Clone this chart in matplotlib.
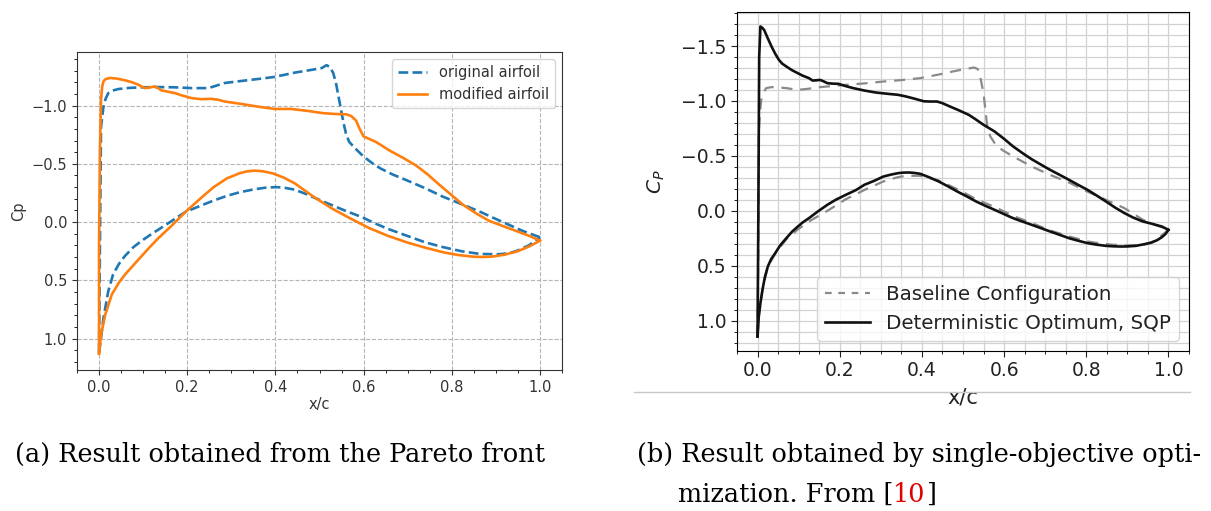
import matplotlib
matplotlib.use("Agg")
import matplotlib.pyplot as plt
from matplotlib.ticker import MultipleLocator
from matplotlib.lines import Line2D

# ---- (a) Pareto-front result: original vs modified airfoil ----
orig_upper_x = [0.0, 0.002, 0.0045, 0.01, 0.015, 0.021, 0.03, 0.044, 0.06, 0.074, 0.1, 0.134,
                0.17, 0.21, 0.248, 0.265, 0.285, 0.32, 0.36, 0.398, 0.444, 0.487, 0.505, 0.516,
                0.524, 0.531, 0.537, 0.542, 0.548, 0.554, 0.56, 0.567, 0.579, 0.6, 0.62, 0.638,
                0.665, 0.697, 0.74, 0.781, 0.825, 0.865, 0.895, 0.924, 0.96, 1.0]
orig_upper_cp = [1.12, 0.2, -0.818, -0.99, -1.06, -1.107, -1.128, -1.142, -1.149, -1.153, -1.157,
                 -1.159, -1.157, -1.15, -1.15, -1.17, -1.194, -1.21, -1.228, -1.246, -1.283, -1.31,
                 -1.322, -1.347, -1.33, -1.28, -1.2, -1.1, -0.98, -0.86, -0.76, -0.69, -0.64,
                 -0.562, -0.505, -0.461, -0.41, -0.36, -0.29, -0.216, -0.15, -0.087, -0.035,
                 0.014, 0.075, 0.13]
orig_lower_x = [0.0, 0.0045, 0.01, 0.021, 0.032, 0.045, 0.059, 0.078, 0.097, 0.12, 0.149, 0.175,
                0.196, 0.23, 0.26, 0.29, 0.318, 0.35, 0.377, 0.402, 0.42, 0.444, 0.47, 0.5,
                0.529, 0.56, 0.596, 0.625, 0.655, 0.7, 0.739, 0.78, 0.823, 0.865, 0.907, 0.93,
                0.949, 0.975, 1.0]
orig_lower_cp = [1.12, 0.997, 0.824, 0.592, 0.448, 0.36, 0.29, 0.215, 0.16, 0.1, 0.03, -0.035,
                 -0.087, -0.14, -0.185, -0.225, -0.255, -0.28, -0.295, -0.3, -0.295, -0.278,
                 -0.24, -0.19, -0.144, -0.095, -0.043, 0.01, 0.058, 0.12, 0.173, 0.215, 0.251,
                 0.274, 0.276, 0.268, 0.245, 0.2, 0.13]

mod_upper_x = [0.0, 0.0, 0.002, 0.0045, 0.007, 0.01, 0.015, 0.025, 0.04, 0.059, 0.075, 0.089,
               0.104, 0.115, 0.127, 0.142, 0.155, 0.172, 0.19, 0.21, 0.232, 0.255, 0.27, 0.285,
               0.323, 0.36, 0.398, 0.436, 0.474, 0.508, 0.535, 0.561, 0.572, 0.583, 0.591, 0.6,
               0.612, 0.629, 0.659, 0.69, 0.719, 0.745, 0.772, 0.8, 0.825, 0.855, 0.885, 0.92,
               0.953, 0.98, 1.0]
mod_upper_cp = [1.13, 0.2, -0.616, -1.05, -1.16, -1.208, -1.228, -1.237, -1.232, -1.217, -1.2,
                -1.179, -1.15, -1.155, -1.165, -1.13, -1.12, -1.107, -1.085, -1.064, -1.055,
                -1.058, -1.05, -1.035, -1.014, -0.991, -0.971, -0.971, -0.954, -0.935, -0.928,
                -0.925, -0.91, -0.871, -0.8, -0.735, -0.715, -0.686, -0.614, -0.55, -0.486,
                -0.41, -0.32, -0.23, -0.15, -0.075, -0.01, 0.04, 0.086, 0.125, 0.16]
mod_lower_x = [0.0, 0.0045, 0.014, 0.029, 0.045, 0.059, 0.078, 0.097, 0.115, 0.134, 0.165,
               0.196, 0.234, 0.26, 0.29, 0.318, 0.335, 0.352, 0.37, 0.394, 0.42, 0.444, 0.487,
               0.529, 0.571, 0.613, 0.655, 0.697, 0.74, 0.781, 0.815, 0.848, 0.87, 0.89, 0.92,
               0.949, 0.975, 1.0]
mod_lower_cp = [1.13, 0.968, 0.795, 0.621, 0.52, 0.45, 0.37, 0.29, 0.215, 0.14, 0.03, -0.087,
                -0.216, -0.3, -0.375, -0.418, -0.435, -0.441, -0.437, -0.418, -0.38, -0.332,
                -0.216, -0.115, -0.029, 0.052, 0.118, 0.173, 0.22, 0.26, 0.283, 0.297, 0.3,
                0.297, 0.28, 0.251, 0.21, 0.16]

# ---- (b) single-objective optimisation: baseline vs SQP optimum ----
base_upper_x = [0.0, 0.002, 0.003, 0.006, 0.009, 0.015, 0.021, 0.034, 0.05, 0.07, 0.098, 0.125,
                0.152, 0.215, 0.26, 0.306, 0.35, 0.396, 0.44, 0.486, 0.527, 0.536, 0.543, 0.55,
                0.555, 0.559, 0.566, 0.577, 0.595, 0.622, 0.667, 0.71, 0.758, 0.8, 0.848, 0.893,
                0.938, 0.965, 0.984, 1.0]
base_upper_cp = [1.14, 0.3, -0.707, -0.9, -1.01, -1.08, -1.117, -1.126, -1.124, -1.117, -1.101,
                 -1.112, -1.126, -1.147, -1.16, -1.177, -1.19, -1.208, -1.24, -1.277, -1.305,
                 -1.29, -1.2, -1.071, -0.9, -0.768, -0.68, -0.616, -0.555, -0.495, -0.404, -0.33,
                 -0.258, -0.18, -0.1, -0.024, 0.082, 0.125, 0.149, 0.173]
base_lower_x = [0.0, 0.003, 0.012, 0.025, 0.043, 0.07, 0.098, 0.125, 0.17, 0.215, 0.26, 0.306,
                0.34, 0.36, 0.396, 0.441, 0.49, 0.532, 0.58, 0.622, 0.67, 0.712, 0.76, 0.803,
                0.84, 0.866, 0.9, 0.938, 0.96, 0.975, 1.0]
base_lower_cp = [1.14, 0.962, 0.72, 0.51, 0.39, 0.258, 0.17, 0.097, 0.0, -0.106, -0.19, -0.267,
                 -0.305, -0.319, -0.319, -0.276, -0.19, -0.106, -0.03, 0.046, 0.115, 0.179,
                 0.235, 0.279, 0.3, 0.309, 0.315, 0.309, 0.29, 0.25, 0.173]

opt_upper_x = [0.0, 0.002, 0.004, 0.007, 0.011, 0.016, 0.025, 0.034, 0.043, 0.052, 0.06, 0.07,
               0.084, 0.098, 0.11, 0.125, 0.134, 0.143, 0.152, 0.16, 0.17, 0.183, 0.197, 0.215,
               0.233, 0.26, 0.288, 0.315, 0.342, 0.36, 0.378, 0.405, 0.42, 0.437, 0.45, 0.468,
               0.49, 0.514, 0.53, 0.55, 0.577, 0.6, 0.622, 0.645, 0.667, 0.69, 0.712, 0.735,
               0.758, 0.78, 0.803, 0.825, 0.848, 0.87, 0.893, 0.915, 0.938, 0.96, 0.984, 1.0]
opt_upper_cp = [1.144, 0.0, -1.4, -1.678, -1.668, -1.647, -1.57, -1.496, -1.43, -1.374, -1.34,
                -1.314, -1.28, -1.253, -1.23, -1.208, -1.186, -1.188, -1.192, -1.18, -1.162,
                -1.158, -1.156, -1.135, -1.117, -1.095, -1.077, -1.066, -1.056, -1.042, -1.025,
                -0.997, -0.995, -0.995, -0.98, -0.95, -0.915, -0.874, -0.835, -0.783, -0.722,
                -0.655, -0.586, -0.525, -0.47, -0.42, -0.373, -0.328, -0.282, -0.237, -0.191,
                -0.14, -0.085, -0.03, 0.021, 0.063, 0.097, 0.118, 0.143, 0.173]
opt_lower_x = [0.0, 0.003, 0.007, 0.012, 0.018, 0.025, 0.033, 0.043, 0.055, 0.07, 0.084, 0.098,
               0.11, 0.125, 0.147, 0.17, 0.19, 0.215, 0.24, 0.26, 0.285, 0.306, 0.325, 0.342,
               0.355, 0.369, 0.382, 0.396, 0.418, 0.441, 0.465, 0.486, 0.51, 0.532, 0.555, 0.577,
               0.6, 0.622, 0.645, 0.667, 0.69, 0.712, 0.735, 0.758, 0.78, 0.803, 0.825, 0.848,
               0.866, 0.884, 0.9, 0.92, 0.94, 0.957, 0.972, 0.984, 0.993, 1.0]
opt_lower_cp = [1.144, 0.962, 0.84, 0.719, 0.6, 0.507, 0.44, 0.385, 0.315, 0.249, 0.19, 0.143,
                0.105, 0.067, 0.005, -0.055, -0.1, -0.146, -0.19, -0.237, -0.275, -0.312, -0.33,
                -0.343, -0.348, -0.349, -0.345, -0.337, -0.305, -0.267, -0.22, -0.176, -0.13,
                -0.085, -0.045, -0.009, 0.03, 0.067, 0.098, 0.127, 0.158, 0.188, 0.218, 0.249,
                0.272, 0.294, 0.308, 0.319, 0.323, 0.325, 0.324, 0.319, 0.305, 0.29, 0.268,
                0.24, 0.21, 0.173]

x_ticks = [0.0, 0.2, 0.4, 0.6, 0.8, 1.0]

W, H = 1211, 511
fig = plt.figure(figsize=(W / 100, H / 100), dpi=100)
plt.rcParams['font.family'] = ['DejaVu Sans']


def px_axes(left, top, right, bottom):
    return [left / W, 1 - bottom / H, (right - left) / W, (bottom - top) / H]


# ---------------- left panel ----------------
ax1 = fig.add_axes(px_axes(77, 52, 562, 370))
blue, orange = '#1f77b4', '#ff7f0e'
ax1.plot(orig_upper_x, orig_upper_cp, '--', color=blue, lw=1.9, label='original airfoil')
ax1.plot(orig_lower_x, orig_lower_cp, '--', color=blue, lw=1.9)
ax1.plot(mod_upper_x, mod_upper_cp, '-', color=orange, lw=1.9, label='modified airfoil')
ax1.plot(mod_lower_x, mod_lower_cp, '-', color=orange, lw=1.9)
ax1.set_xlim(-0.05, 1.05)
ax1.set_ylim(1.27, -1.46)
ax1.set_xticks(x_ticks)
ax1.set_yticks([-1.0, -0.5, 0.0, 0.5, 1.0])
ax1.xaxis.set_minor_locator(MultipleLocator(0.05))
ax1.yaxis.set_minor_locator(MultipleLocator(0.1))
ax1.grid(True, which='major', linestyle='--', color='#b5b5b5', lw=0.8)
ax1.tick_params(labelsize=10.5, colors='#333333')
for s in ax1.spines.values():
    s.set_color('#333333')
ax1.set_xlabel('x/c', fontsize=10.5, color='#333333', labelpad=2)
ax1.set_ylabel('Cp', fontsize=10.5, color='#333333', labelpad=4)
ax1.legend(loc='upper right', fontsize=10.5, handlelength=2.0, labelcolor='#333333')

# ---------------- right panel ----------------
ax2 = fig.add_axes(px_axes(737, 12, 1189, 351))
grey = '#8a8a8a'
ax2.plot(base_upper_x, base_upper_cp, color=grey, lw=1.6, dashes=(5, 3.5))
ax2.plot(base_lower_x, base_lower_cp, color=grey, lw=1.6, dashes=(5, 3.5))
ax2.plot(opt_upper_x, opt_upper_cp, color='#111111', lw=1.9)
ax2.plot(opt_lower_x, opt_lower_cp, color='#111111', lw=1.9)
ax2.set_xlim(-0.05, 1.05)
ax2.set_ylim(1.276, -1.81)
ax2.set_xticks(x_ticks)
ax2.set_yticks([-1.5, -1.0, -0.5, 0.0, 0.5, 1.0])
ax2.xaxis.set_minor_locator(MultipleLocator(0.05))
ax2.yaxis.set_minor_locator(MultipleLocator(0.1))
ax2.grid(True, which='both', color='#d2d2d2', lw=0.9)
ax2.set_axisbelow(True)
ax2.tick_params(labelsize=13.5, colors='#222222')
ax2.tick_params(which='major', length=4)
ax2.set_xlabel('x/c', fontsize=15, color='#222222', labelpad=5)
ax2.set_ylabel('$C_P$', fontsize=14.5, color='#222222', labelpad=10)
handles = [Line2D([], [], color=grey, lw=1.6, dashes=(3, 3)),
           Line2D([], [], color='#111111', lw=1.9)]
ax2.legend(handles, ['Baseline Configuration', 'Deterministic Optimum, SQP'],
           loc='lower right', fontsize=14.3, handlelength=2.3, labelcolor='#222222')

# separator rule below the right panel
fig.add_artist(Line2D([634 / W, 1190 / W], [1 - 392 / H, 1 - 392 / H],
                      color='#c8c8c8', lw=1.0))

# ---------------- captions ----------------
cap_size = 18.4
cap_font = dict(family='DejaVu Serif', fontsize=cap_size, color='black')
fig.text(15 / W, 1 - 462 / H, '(a) Result obtained from the Pareto front',
         ha='left', va='baseline', **cap_font)
fig.text(637 / W, 1 - 462 / H, '(b) Result obtained by single-objective opti-',
         ha='left', va='baseline', **cap_font)
t = fig.text(678 / W, 1 - 502 / H, 'mization. From [', ha='left', va='baseline', **cap_font)
fig.canvas.draw()
bb = t.get_window_extent()
t2 = fig.text(bb.x1 / W, 1 - 502 / H, '10', ha='left', va='baseline',
              family='DejaVu Serif', fontsize=cap_size, color='#e00000')
fig.canvas.draw()
bb2 = t2.get_window_extent()
fig.text(bb2.x1 / W, 1 - 502 / H, ']', ha='left', va='baseline', **cap_font)

fig.savefig('out.png', dpi=100)
